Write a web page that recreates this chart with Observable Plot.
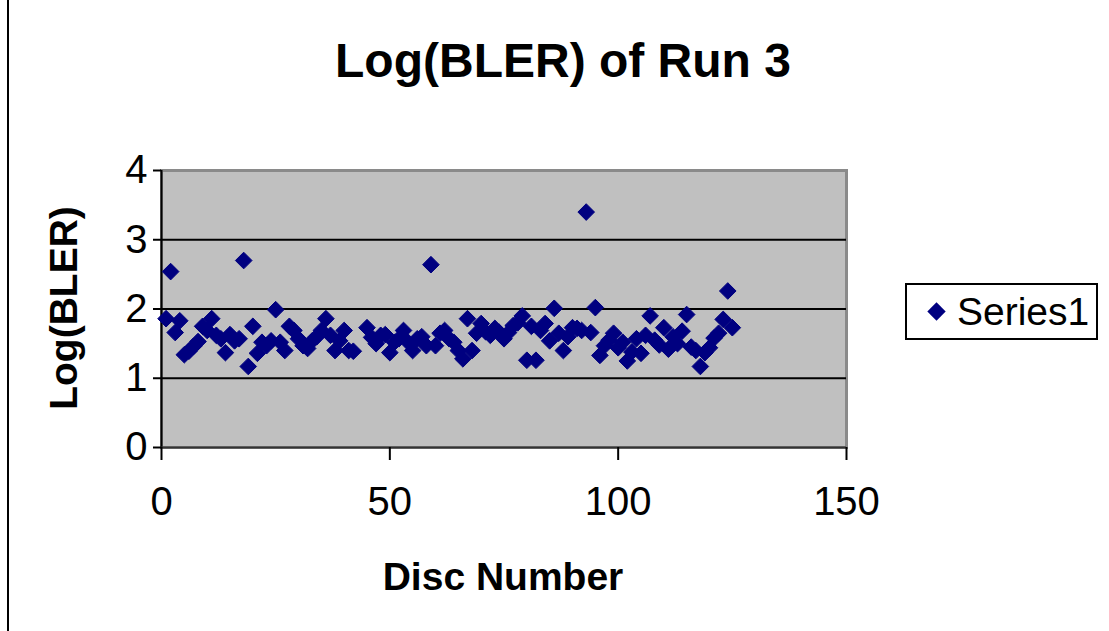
<!DOCTYPE html>
<html>
<head>
<meta charset="utf-8">
<script src="https://cdn.jsdelivr.net/npm/d3@7"></script>
<script src="https://cdn.jsdelivr.net/npm/@observablehq/plot@0.6"></script>
<style>
  html, body { margin: 0; padding: 0; background: #fff; }
  #wrap { position: relative; width: 1109px; height: 631px; overflow: hidden; font-family: "Liberation Sans", Arial, sans-serif; }
  #wrap svg { position: absolute; left: 0; top: 0; }
  .edge { position: absolute; left: 7px; top: 0; width: 2px; height: 631px; background: #000; }
  .title { position: absolute; left: 0; width: 1126px; top: 33px; text-align: center; font-weight: bold; font-size: 48px; color: #000; }
  .xlab { position: absolute; left: 0; width: 1006px; top: 555px; text-align: center; font-weight: bold; font-size: 39px; color: #000; }
  .ylab { position: absolute; left: 64px; top: 308px; transform: translate(-50%, -50%) rotate(-90deg); font-weight: bold; font-size: 39px; white-space: nowrap; color: #000; }
  .legend { position: absolute; left: 905px; top: 283px; width: 193px; height: 57px; border: 2px solid #000; box-sizing: border-box; display: flex; align-items: center; font-size: 39px; color: #000; }
  .legend .mk { width: 13px; height: 13px; background: #000080; transform: rotate(45deg); margin-left: 23px; margin-right: 14px; }
</style>
</head>
<body>
<div id="wrap">
  <div class="edge"></div>
  <div class="title">Log(BLER) of Run 3</div>
  <div class="ylab">Log(BLER)</div>
  <div class="xlab">Disc Number</div>
  <div class="legend"><div class="mk"></div><span>Series1</span></div>
</div>
<script>
const seriesName = "Series1";
const xTicks = [0, 50, 100, 150];
const yTicks = [0, 1, 2, 3, 4];
const discs = [
  1,2,3,4,5,6,7,8,9,10,11,12,13,14,15,16,17,18,19,20,
  21,22,23,24,25,26,27,28,29,30,31,32,33,34,35,36,37,38,39,40,
  41,42,45,46,47,48,49,50,51,52,53,54,55,56,57,58,59,60,
  61,62,63,64,65,66,67,68,69,70,71,72,73,74,75,76,77,78,79,80,
  81,82,83,84,85,86,87,88,89,90,91,92,93,94,95,96,97,98,99,100,
  101,102,103,104,105,106,107,108,109,110,111,112,113,114,115,116,117,118,119,120,
  121,122,123,124,125
];
const logBler = [
  1.86,2.54,1.66,1.83,1.34,1.39,1.46,1.53,1.75,1.69,1.86,1.62,1.57,1.37,1.63,1.54,1.57,2.70,1.17,1.75,
  1.36,1.52,1.47,1.54,1.99,1.52,1.40,1.75,1.69,1.57,1.47,1.43,1.54,1.60,1.69,1.86,1.62,1.40,1.54,1.69,
  1.40,1.39,1.73,1.59,1.50,1.62,1.63,1.37,1.52,1.57,1.69,1.52,1.40,1.57,1.60,1.47,2.64,1.47,
  1.65,1.69,1.57,1.52,1.40,1.28,1.86,1.40,1.65,1.79,1.67,1.62,1.72,1.66,1.57,1.66,1.76,1.80,1.90,1.26,
  1.75,1.26,1.69,1.79,1.54,2.01,1.65,1.40,1.60,1.73,1.72,1.69,3.40,1.66,2.02,1.33,1.47,1.55,1.65,1.44,
  1.52,1.25,1.38,1.57,1.36,1.62,1.90,1.55,1.48,1.73,1.42,1.60,1.50,1.68,1.92,1.45,1.40,1.17,1.37,1.44,
  1.58,1.65,1.85,2.26,1.73
];
const data = discs.map((d, i) => ({disc: d, value: logBler[i]}));

const chart = Plot.plot({
  width: 1109,
  height: 631,
  marginLeft: 161,
  marginRight: 263,
  marginTop: 170,
  marginBottom: 184,
  style: {fontFamily: "Liberation Sans, Arial, sans-serif", fontSize: "39px", color: "#000", background: "transparent", overflow: "visible"},
  x: {domain: [0, 150], ticks: xTicks},
  y: {domain: [0, 4], ticks: yTicks},
  marks: [
    Plot.frame({fill: "#c0c0c0", stroke: "#8a8a8a", strokeWidth: 3}),
    Plot.ruleY([1, 2, 3], {stroke: "#000", strokeWidth: 2}),
    Plot.ruleX([0], {stroke: "#000", strokeWidth: 2}),
    Plot.ruleY([0], {stroke: "#333", strokeWidth: 2}),
    Plot.axisX({ticks: xTicks, tickSize: 13, tickPadding: 26, tickFormat: d => String(d), fontSize: 40, strokeWidth: 2, label: null}),
    Plot.axisY({ticks: yTicks, tickSize: 8, tickPadding: 6, tickFormat: d => String(d), fontSize: 40, strokeWidth: 2, label: null}),
    Plot.dot(data, {x: "disc", y: "value", symbol: "diamond2", r: 7.5, fill: "#000080", stroke: "#000080", strokeWidth: 1})
  ]
});
document.getElementById("wrap").prepend(chart);
</script>
</body>
</html>
